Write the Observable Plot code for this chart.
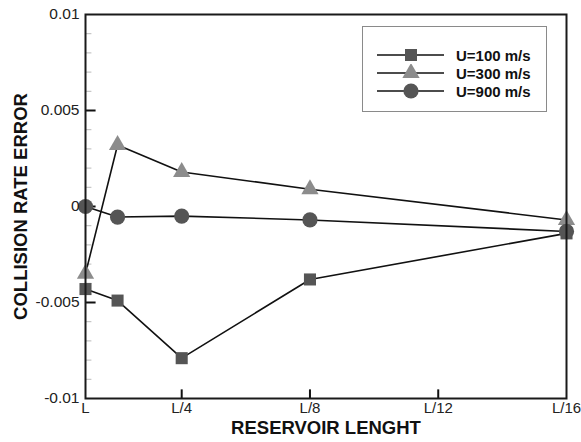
<!DOCTYPE html>
<html>
<head>
<meta charset="utf-8">
<script src="https://cdn.jsdelivr.net/npm/d3@7"></script>
<script src="https://cdn.jsdelivr.net/npm/@observablehq/plot@0.6"></script>
<style>
  html, body { margin: 0; padding: 0; background: #fff; }
  #wrap { position: relative; width: 581px; height: 442px; font-family: "Liberation Sans", Arial, sans-serif; }
  #legend { position: absolute; left: 362px; top: 26px; width: 185px; height: 86px; border: 1px solid #8a8a8a; background: #fff; box-sizing: border-box; }
  .row { position: absolute; left: 14px; height: 18px; display: flex; align-items: center; }
  .row span { font-weight: bold; font-size: 15px; margin-left: 11px; color: #111; }
</style>
</head>
<body>
<div id="wrap"></div>
<script>
const xs = [1, 2, 4, 8, 16];
const u100 = [-0.0043, -0.0049, -0.0079, -0.0038, -0.0014];
const u300 = [-0.0035, 0.0032, 0.0018, 0.0009, -0.0007];
const u900 = [0, -0.00055, -0.0005, -0.0007, -0.0013];
const seriesNames = ["U=100 m/s", "U=300 m/s", "U=900 m/s"];
const seriesSymbols = ["square", "triangle", "circle"];
const seriesFill = ["#555555", "#8c8c8c", "#555555"];
const seriesR = [6.8, 6.4, 7.6];
const xTicks = [1, 4, 8, 12, 16];
const xLabels = ["L", "L/4", "L/8", "L/12", "L/16"];
const yTicks = [-0.01, -0.005, 0, 0.005, 0.01];
const yLabels = ["-0.01", "-0.005", "0", "0.005", "0.01"];
const yMinor = d3.range(-9, 10).map(i => i / 1000).filter(v => Math.abs(Math.round(v * 1000)) % 5 !== 0);
const xTitle = "RESERVOIR LENGHT";
const yTitle = "COLLISION RATE ERROR";

const values = [u100, u300, u900];
const data = [];
values.forEach((arr, s) => arr.forEach((v, i) => data.push({x: xs[i], y: v, s})));

const marks = [];
marks.push(Plot.ruleY(yMinor, {y: d => d, x1: 1, x2: 1.2, stroke: "#bbb", strokeWidth: 1}));
marks.push(Plot.ruleY(yTicks.slice(1, -1), {y: d => d, x1: 1, x2: 1.33, stroke: "#111", strokeWidth: 2}));
marks.push(Plot.ruleX(xTicks.slice(1, -1), {x: d => d, y1: -0.01, y2: -0.00955, stroke: "#111", strokeWidth: 2}));
[0, 1, 2].forEach(s => {
  const d = data.filter(p => p.s === s);
  marks.push(Plot.line(d, {x: "x", y: "y", stroke: "#111", strokeWidth: 1.6}));
});
[0, 1, 2].forEach(s => {
  const d = data.filter(p => p.s === s);
  marks.push(Plot.dot(d, {x: "x", y: "y", symbol: () => seriesSymbols[s], r: seriesR[s], fill: seriesFill[s], stroke: "none"}));
});
marks.push(Plot.frame({stroke: "#1a1a1a", strokeWidth: 2}));
marks.push(Plot.axisY({ticks: yTicks, tickFormat: d => yLabels[yTicks.indexOf(d)], tickSize: 0, tickPadding: 6, fontSize: 15.5, label: null, fill: "#222"}));
marks.push(Plot.axisX({ticks: xTicks, tickFormat: d => xLabels[xTicks.indexOf(d)], tickSize: 0, tickPadding: 4, fontSize: 15, label: null, fill: "#222"}));
marks.push(Plot.text([yTitle], {text: d => d, frameAnchor: "left", textAnchor: "middle", rotate: -90, dx: -64, fontWeight: "bold", fontSize: 18.5, fill: "#111"}));
marks.push(Plot.text([xTitle], {text: d => d, frameAnchor: "bottom", textAnchor: "middle", dy: 35, fontWeight: "bold", fontSize: 18.5, fill: "#111"}));

const chart = Plot.plot({
  width: 581,
  height: 442,
  marginLeft: 85,
  marginRight: 15,
  marginTop: 14,
  marginBottom: 44,
  style: {fontFamily: "Liberation Sans, Arial, sans-serif", background: "#fff", fontSize: "15.5px"},
  x: {type: "linear", domain: [1, 16]},
  y: {domain: [-0.01, 0.01]},
  marks
});
const wrap = document.getElementById("wrap");
wrap.appendChild(chart);

const legend = document.createElement("div");
legend.id = "legend";
seriesNames.forEach((name, s) => {
  const row = document.createElement("div");
  row.className = "row";
  row.style.top = (19 + s * 18) + "px";
  const svg = d3.create("svg").attr("width", 68).attr("height", 18);
  svg.append("line").attr("x1", 0).attr("x2", 67).attr("y1", 9).attr("y2", 9).attr("stroke", "#111").attr("stroke-width", 1.6);
  const sym = {square: d3.symbolSquare, triangle: d3.symbolTriangle, circle: d3.symbolCircle}[seriesSymbols[s]];
  svg.append("path").attr("transform", "translate(34,9)").attr("d", d3.symbol(sym, Math.PI * seriesR[s] * seriesR[s])()).attr("fill", seriesFill[s]);
  row.appendChild(svg.node());
  const t = document.createElement("span");
  t.textContent = name;
  row.appendChild(t);
  legend.appendChild(row);
});
wrap.appendChild(legend);
</script>
</body>
</html>
